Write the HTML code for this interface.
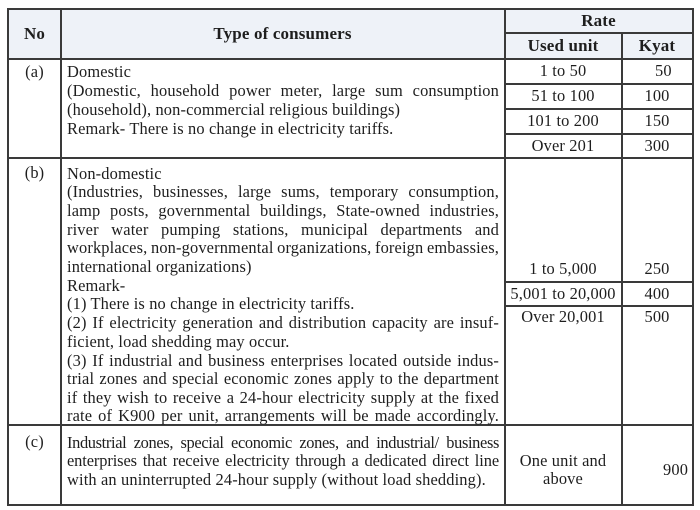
<!DOCTYPE html>
<html><head><meta charset="utf-8"><style>
body{margin:0;width:700px;height:510px;background:#fff;position:relative;overflow:hidden;font-family:"Liberation Serif",serif;color:#1e1e1e;}
.l{position:absolute;background:#3a3a3a;}
.t{position:absolute;font-size:16.4px;letter-spacing:0.15px;line-height:19px;height:19px;white-space:nowrap;}
.j{left:67px;width:432px;text-align:justify;text-align-last:justify;white-space:normal;word-spacing:-1px;}
.n{left:67px;}
.c{text-align:center;}
.b{font-weight:bold;font-size:17px;}
</style></head><body>
<div style="position:absolute;left:7px;top:8px;width:686px;height:51px;background:#eef2f8"></div>
<div class="l" style="left:7px;top:8px;width:687px;height:2px"></div>
<div class="l" style="left:7px;top:504px;width:687px;height:2px"></div>
<div class="l" style="left:7px;top:8px;width:2px;height:498px"></div>
<div class="l" style="left:692px;top:8px;width:2px;height:498px"></div>
<div class="l" style="left:60px;top:8px;width:1.5px;height:498px"></div>
<div class="l" style="left:504px;top:8px;width:1.5px;height:498px"></div>
<div class="l" style="left:621px;top:33px;width:1.5px;height:473px"></div>
<div class="l" style="left:504px;top:32px;width:189px;height:1.5px"></div>
<div class="l" style="left:7px;top:58px;width:687px;height:1.5px"></div>
<div class="l" style="left:504px;top:83px;width:189px;height:1.5px"></div>
<div class="l" style="left:504px;top:108px;width:189px;height:1.5px"></div>
<div class="l" style="left:504px;top:133px;width:189px;height:1.5px"></div>
<div class="l" style="left:7px;top:157px;width:687px;height:1.5px"></div>
<div class="l" style="left:504px;top:281px;width:189px;height:1.5px"></div>
<div class="l" style="left:504px;top:305px;width:189px;height:1.5px"></div>
<div class="l" style="left:7px;top:424px;width:687px;height:1.5px"></div>

<div class="t b c" style="left:9px;width:51px;top:24px">No</div>
<div class="t b c" style="left:61px;width:443px;top:24px">Type of consumers</div>
<div class="t b c" style="left:505px;width:187px;top:11px">Rate</div>
<div class="t b c" style="left:505px;width:116px;top:36px">Used unit</div>
<div class="t b c" style="left:622px;width:70px;top:36px">Kyat</div>

<div class="t c" style="left:9px;width:51px;top:62px">(a)</div>
<div class="t n" style="top:62px">Domestic</div>
<div class="t j" style="top:81px">(Domestic, household power meter, large sum consumption</div>
<div class="t n" style="top:100px">(household), non-commercial religious buildings)</div>
<div class="t n" style="top:119px">Remark- There is no change in electricity tariffs.</div>
<div class="t c" style="left:505px;width:116px;top:61px">1 to 50</div>
<div class="t" style="left:655px;top:61px">50</div>
<div class="t c" style="left:505px;width:116px;top:86px">51 to 100</div>
<div class="t c" style="left:622px;width:70px;top:86px">100</div>
<div class="t c" style="left:505px;width:116px;top:111px">101 to 200</div>
<div class="t c" style="left:622px;width:70px;top:111px">150</div>
<div class="t c" style="left:505px;width:116px;top:136px">Over 201</div>
<div class="t c" style="left:622px;width:70px;top:136px">300</div>

<div class="t c" style="left:9px;width:51px;top:163px">(b)</div>
<div class="t n" style="top:163.5px">Non-domestic</div>
<div class="t j" style="top:182.2px">(Industries, businesses, large sums, temporary consumption,</div>
<div class="t j" style="top:200.9px">lamp posts, governmental buildings, State-owned industries,</div>
<div class="t j" style="top:219.6px">river water pumping stations, municipal departments and</div>
<div class="t j" style="top:238.3px">workplaces, non-governmental organizations, foreign embassies,</div>
<div class="t n" style="top:257px">international organizations)</div>
<div class="t n" style="top:275.7px">Remark-</div>
<div class="t n" style="top:294.4px">(1) There is no change in electricity tariffs.</div>
<div class="t j" style="top:313.1px">(2) If electricity generation and distribution capacity are insuf-</div>
<div class="t n" style="top:331.8px">ficient, load shedding may occur.</div>
<div class="t j" style="top:350.5px">(3) If industrial and business enterprises located outside indus-</div>
<div class="t j" style="top:369.2px">trial zones and special economic zones apply to the department</div>
<div class="t j" style="top:387.9px">if they wish to receive a 24-hour electricity supply at the fixed</div>
<div class="t j" style="top:405.8px">rate of K900 per unit, arrangements will be made accordingly.</div>
<div class="t c" style="left:505px;width:116px;top:259px">1 to 5,000</div>
<div class="t c" style="left:622px;width:70px;top:259px">250</div>
<div class="t c" style="left:505px;width:116px;top:284px">5,001 to 20,000</div>
<div class="t c" style="left:622px;width:70px;top:284px">400</div>
<div class="t c" style="left:505px;width:116px;top:307px">Over 20,001</div>
<div class="t c" style="left:622px;width:70px;top:307px">500</div>

<div class="t c" style="left:9px;width:51px;top:432px">(c)</div>
<div class="t j" style="top:432.5px;letter-spacing:-0.35px;word-spacing:-2px">Industrial zones, special economic zones, and industrial/ business</div>
<div class="t j" style="top:451.2px;letter-spacing:-0.1px">enterprises that receive electricity through a dedicated direct line</div>
<div class="t n" style="top:469.9px">with an uninterrupted 24-hour supply (without load shedding).</div>
<div class="t c" style="left:505px;width:116px;top:451px">One unit and</div>
<div class="t c" style="left:505px;width:116px;top:469px">above</div>
<div class="t" style="left:663px;top:460px">900</div>
</body></html>
